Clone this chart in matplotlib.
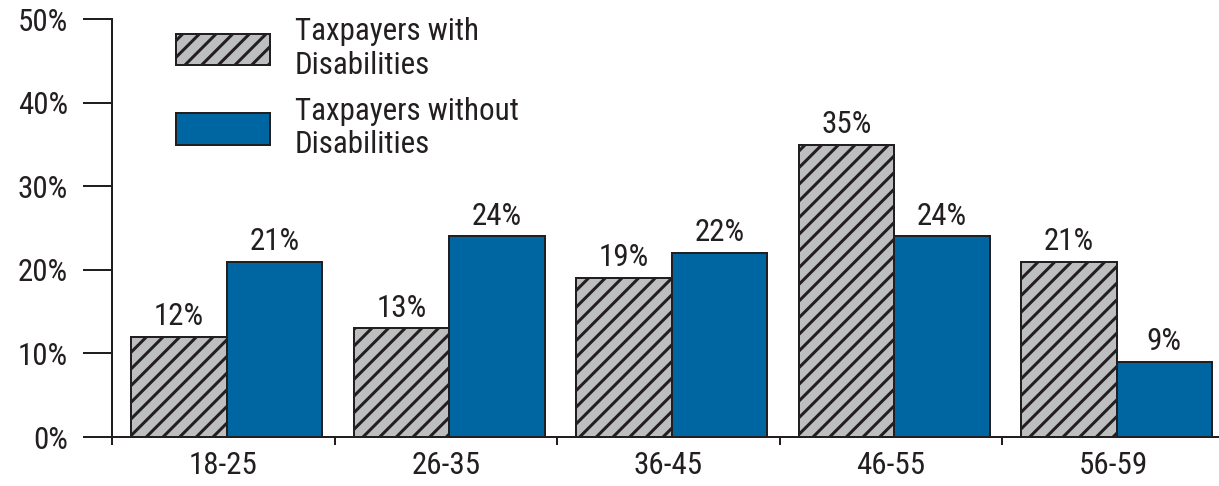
import matplotlib
matplotlib.use("Agg")
import matplotlib.pyplot as plt
import numpy as np

DPI = 100


def px(v):
    # pixel size -> points
    return v * 72 / DPI


plt.rcParams['font.family'] = ['Roboto Condensed', 'DejaVu Sans']
plt.rcParams['hatch.linewidth'] = px(3)
plt.rcParams['hatch.color'] = '#1a1a1a'

# --- data ---
age_groups = ['18-25', '26-35', '36-45', '46-55', '56-59']
with_disab = [12, 13, 19, 35, 21]
without_disab = [21, 24, 22, 24, 9]

GRAY = '#bcbec0'
BLUE = '#0066a1'
EDGE = '#231f20'
FS = px(31)

fig = plt.figure(figsize=(1219 / DPI, 486 / DPI), dpi=DPI)
ax = fig.add_axes([0.0919, 0.1008, 0.9081, 0.8597])

x = np.arange(len(age_groups))
w = 0.429
shift = 0.015

b1 = ax.bar(x + shift - w / 2, with_disab, w, color=GRAY, edgecolor=EDGE,
            linewidth=px(2), hatch='//', label='Taxpayers with\nDisabilities')
b2 = ax.bar(x + shift + w / 2, without_disab, w, color=BLUE, edgecolor=EDGE,
            linewidth=px(2), label='Taxpayers without\nDisabilities')

for bars, vals in ((b1, with_disab), (b2, without_disab)):
    for r, v in zip(bars, vals):
        ax.text(r.get_x() + r.get_width() / 2, v + 0.7, f'{v}%',
                ha='center', va='bottom', fontsize=FS, color=EDGE)

ax.set_xlim(-0.5, 4.475)
ax.set_ylim(0, 50)

ax.set_yticks(range(0, 51, 10))
ax.set_yticklabels([f'{t}%' for t in range(0, 51, 10)])
ax.tick_params(axis='y', length=px(29), width=px(2), direction='out',
               pad=px(15), labelsize=FS, colors=EDGE)

# group separators as major ticks, names on minor ticks
ax.set_xticks(np.arange(-0.5, 4.0, 1.0))
ax.set_xticklabels([])
ax.set_xticks(x, minor=True)
ax.set_xticklabels(age_groups, minor=True)
ax.tick_params(axis='x', which='major', length=px(8), width=px(2),
               direction='out', colors=EDGE)
ax.tick_params(axis='x', which='minor', length=0, pad=px(14), labelsize=FS,
               colors=EDGE)

for s in ('top', 'right'):
    ax.spines[s].set_visible(False)
for s in ('left', 'bottom'):
    ax.spines[s].set_linewidth(px(2))
    ax.spines[s].set_color(EDGE)

leg = ax.legend(loc='upper left', bbox_to_anchor=(0.058, 1.005), frameon=False,
                fontsize=FS, handlelength=3.03, handleheight=1.2,
                handletextpad=0.8, labelspacing=0.55, labelcolor=EDGE,
                borderpad=0, borderaxespad=0)

fig.savefig('out.png', dpi=DPI)
